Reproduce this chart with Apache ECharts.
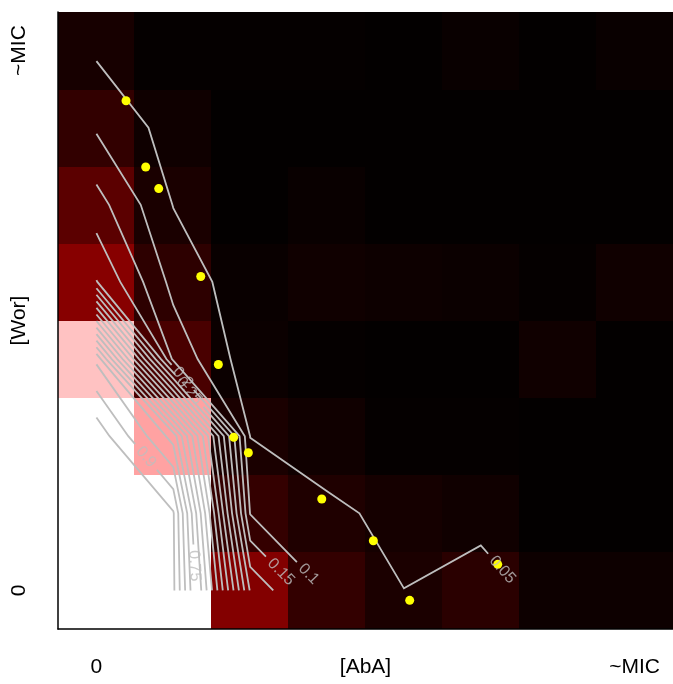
<!DOCTYPE html>
<html><head><meta charset="utf-8">
<script src="https://cdn.jsdelivr.net/npm/echarts@6/dist/echarts.min.js"></script>
<style>html,body{margin:0;padding:0;background:#fff}#c{width:673px;height:684px}</style>
</head><body><div id="c"></div>
<script>
// ---------------- data ----------------
const abaLabels = ['0', '', '', '', '', '', '', '~MIC'];
const worLabels = ['0', '', '', '', '', '', '', '~MIC'];
const abaTitle = '[AbA]';
const worTitle = '[Wor]';
// relative growth, one array per [Wor] level (wor7 = highest), across the 8 [AbA] levels
const wor7 = [0.043, 0.010, 0.010, 0.010, 0.006, 0.016, 0.006, 0.016];
const wor6 = [0.094, 0.029, 0.006, 0.006, 0.006, 0.006, 0.006, 0.006];
const wor5 = [0.170, 0.0485, 0.006, 0.016, 0.006, 0.006, 0.006, 0.006];
const wor4 = [0.252, 0.084, 0.017, 0.030, 0.024, 0.020, 0.010, 0.030];
const wor3 = [0.840, 0.137, 0.020, 0.010, 0.006, 0.006, 0.030, 0.006];
const wor2 = [0.985, 0.780, 0.049, 0.030, 0.010, 0.010, 0.006, 0.006];
const wor1 = [1.000, 0.955, 0.098, 0.058, 0.039, 0.030, 0.006, 0.006];
const wor0 = [1.000, 0.960, 0.245, 0.095, 0.0503, 0.078, 0.024, 0.024];
const contourLevels = [0.05, 0.1, 0.15, 0.2, 0.25, 0.3, 0.35, 0.4, 0.45, 0.5, 0.55, 0.6, 0.65, 0.7, 0.75, 0.8, 0.85, 0.9, 0.95];
const labelledLevels = [0.05, 0.1, 0.15, 0.2, 0.25, 0.75, 0.9];
// observed points (in grid units of [AbA], [Wor])
const pointAbA = [0.385, 0.641, 0.810, 1.357, 1.586, 1.786, 1.976, 2.931, 3.602, 4.075, 5.220];
const pointWor = [6.35, 5.49, 5.21, 4.07, 2.93, 1.985, 1.785, 1.185, 0.644, -0.128, 0.338];

// ---------------- layout config (label spots, approximate) ----------------
const labelSpot = {0.05: [5.26, 0.25], 0.1: [2.78, 0.23], 0.15: [2.39, 0.23], 0.2: [1.12, 2.76], 0.25: [1.22, 2.60], 0.75: [1.30, 0.32], 0.9: [0.75, 1.82]};

const rowsBottomUp = [wor0, wor1, wor2, wor3, wor4, wor5, wor6, wor7];
const N = 8;
const F = [];
for (let c = 0; c < N; c++) F[c] = rowsBottomUp.map(r => r[c]);

const heatData = [];
for (let r = 0; r < N; r++) for (let c = 0; c < N; c++) heatData.push([c, r, rowsBottomUp[r][c]]);

function segmentsFor(L) {
  const segs = [];
  for (let i = 0; i < N - 1; i++) for (let j = 0; j < N - 1; j++) {
    const bl = F[i][j], br = F[i + 1][j], tr = F[i + 1][j + 1], tl = F[i][j + 1];
    const E = [
      {a: bl, b: br, p: [i, j], q: [i + 1, j], id: 'h' + i + '_' + j},
      {a: br, b: tr, p: [i + 1, j], q: [i + 1, j + 1], id: 'v' + (i + 1) + '_' + j},
      {a: tl, b: tr, p: [i, j + 1], q: [i + 1, j + 1], id: 'h' + i + '_' + (j + 1)},
      {a: bl, b: tl, p: [i, j], q: [i, j + 1], id: 'v' + i + '_' + j}
    ];
    const cross = {}; let n = 0;
    E.forEach((e, k) => {
      if ((e.a >= L) !== (e.b >= L)) {
        const t = (L - e.a) / (e.b - e.a);
        cross[k] = {id: e.id, pt: [e.p[0] + t * (e.q[0] - e.p[0]), e.p[1] + t * (e.q[1] - e.p[1])]};
        n++;
      }
    });
    const ks = Object.keys(cross).map(Number);
    if (n === 2) segs.push([cross[ks[0]], cross[ks[1]]]);
    else if (n === 4) {
      const center = (bl + br + tr + tl) / 4;
      if ((bl >= L) === (center >= L)) { segs.push([cross[0], cross[1]]); segs.push([cross[2], cross[3]]); }
      else { segs.push([cross[0], cross[3]]); segs.push([cross[1], cross[2]]); }
    }
  }
  return segs;
}
function chains(segs) {
  const byId = {};
  segs.forEach((s, idx) => s.forEach(p => { (byId[p.id] = byId[p.id] || []).push(idx); }));
  const used = segs.map(() => false);
  const out = [];
  function walk(idx, from) {
    const pts = [segs[idx][from].pt];
    while (true) {
      used[idx] = true;
      const other = segs[idx][1 - from];
      pts.push(other.pt);
      const next = byId[other.id].find(m => !used[m]);
      if (next === undefined) break;
      from = segs[next][0].id === other.id ? 0 : 1;
      idx = next;
    }
    return pts;
  }
  segs.forEach((s, idx) => {
    if (used[idx]) return;
    for (let e = 0; e < 2; e++) if (byId[s[e].id].length === 1) { out.push(walk(idx, e)); return; }
  });
  segs.forEach((s, idx) => { if (!used[idx]) out.push(walk(idx, 0)); });
  return out;
}
const d2 = (a, b) => Math.hypot(a[0] - b[0], a[1] - b[1]);
function nearest(poly, A) {
  let best = null, cum = 0;
  for (let k = 0; k < poly.length - 1; k++) {
    const P = poly[k], Q = poly[k + 1];
    const vx = Q[0] - P[0], vy = Q[1] - P[1], len2 = vx * vx + vy * vy, len = Math.sqrt(len2);
    let t = len2 ? ((A[0] - P[0]) * vx + (A[1] - P[1]) * vy) / len2 : 0;
    t = Math.max(0, Math.min(1, t));
    const X = [P[0] + t * vx, P[1] + t * vy];
    const dist = d2(X, A);
    if (!best || dist < best.dist) best = {dist, pt: X, s: cum + t * len, dir: [vx, vy]};
    cum += len;
  }
  return best;
}
function cut(poly, s0, g) {
  const cum = [0];
  for (let k = 1; k < poly.length; k++) cum.push(cum[k - 1] + d2(poly[k - 1], poly[k]));
  const total = cum[cum.length - 1];
  const at = s => {
    for (let k = 0; k < poly.length - 1; k++) if (s <= cum[k + 1]) {
      const t = (s - cum[k]) / ((cum[k + 1] - cum[k]) || 1);
      return [poly[k][0] + t * (poly[k + 1][0] - poly[k][0]), poly[k][1] + t * (poly[k + 1][1] - poly[k][1])];
    }
    return poly[poly.length - 1];
  };
  const a = s0 - g, b = s0 + g, first = [], second = [];
  poly.forEach((p, k) => { if (cum[k] < a) first.push(p); });
  if (a > 0) first.push(at(a));
  if (b < total - 0.2) { second.push(at(b)); poly.forEach((p, k) => { if (cum[k] > b) second.push(p); }); }
  return [first, second].filter(p => p.length >= 2);
}

const lineData = [];
const labelData = [];
contourLevels.forEach(L => {
  let polys = chains(segmentsFor(L));
  const labelled = labelledLevels.some(v => Math.abs(v - L) < 1e-9);
  if (labelled && labelSpot[L]) {
    const text = String(L);
    let bi = -1, bn = null;
    polys.forEach((p, i) => { const n = nearest(p, labelSpot[L]); if (!bn || n.dist < bn.dist) { bn = n; bi = i; } });
    if (bn) {
      const g = (text.length * 4.6 + 3) / 77;
      const pieces = cut(polys[bi], bn.s, g);
      polys = polys.filter((p, i) => i !== bi).concat(pieces);
      let ang = Math.atan2(bn.dir[1] * 77.125, bn.dir[0] * 76.875) * 180 / Math.PI;
      if (ang >= 90) ang -= 180;
      if (ang < -90) ang += 180;
      labelData.push({value: bn.pt, label: {rotate: ang, formatter: text}});
    }
  }
  polys.forEach(p => lineData.push({coords: p}));
});

const scatterData = pointAbA.map((x, i) => [x, pointWor[i]]);

const FONT = '"Liberation Sans", Arial, Helvetica, sans-serif';
const AXSIZE = 21;
const hiddenValueAxis = {type: 'value', min: -0.5, max: 7.5, show: false,
  axisLine: {show: false, onZero: false}, axisTick: {show: false}, axisLabel: {show: false}, splitLine: {show: false}};
const chart = echarts.init(document.getElementById('c'), null, {renderer: 'canvas'});
chart.setOption({
  animation: false,
  backgroundColor: '#ffffff',
  grid: {left: 58, top: 12, right: 0, bottom: 55, containLabel: false, outerBoundsMode: 'none'},
  xAxis: [
    {type: 'category', data: abaLabels.map((_, i) => i), boundaryGap: true, z: 10,
     axisLine: {show: true, onZero: false, lineStyle: {color: '#000', width: 1.5}}, axisTick: {show: false},
     splitLine: {show: false}, splitArea: {show: false},
     axisLabel: {interval: 0, formatter: (v, i) => abaLabels[i], color: '#000', fontSize: AXSIZE, fontFamily: FONT, margin: 28},
     name: abaTitle, nameLocation: 'middle', nameGap: 28, nameMoveOverlap: false,
     nameTextStyle: {color: '#000', fontSize: AXSIZE, fontFamily: FONT, verticalAlign: 'top'}},
    Object.assign({}, hiddenValueAxis)
  ],
  yAxis: [
    {type: 'category', data: worLabels.map((_, i) => i), boundaryGap: true, z: 10,
     axisLine: {show: true, onZero: false, lineStyle: {color: '#000', width: 1.5}}, axisTick: {show: false},
     splitLine: {show: false}, splitArea: {show: false},
     axisLabel: {interval: 0, rotate: 90, formatter: (v, i) => worLabels[i], color: '#000', fontSize: AXSIZE, fontFamily: FONT, margin: 28},
     name: worTitle, nameLocation: 'middle', nameRotate: 90, nameGap: 28, nameMoveOverlap: false,
     nameTextStyle: {color: '#000', fontSize: AXSIZE, fontFamily: FONT, verticalAlign: 'bottom'}},
    Object.assign({}, hiddenValueAxis)
  ],
  visualMap: {show: false, type: 'continuous', min: 0, max: 0.955, dimension: 2, seriesIndex: 0,
              inRange: {color: ['#000000', '#ff0000', '#ffffff']}},
  series: [
    {type: 'custom', xAxisIndex: 1, yAxisIndex: 1, data: heatData, silent: true, z: 1,
     renderItem: (params, api) => {
       const p0 = api.coord([api.value(0) - 0.5, api.value(1) + 0.5]);
       const p1 = api.coord([api.value(0) + 0.5, api.value(1) - 0.5]);
       const x0 = Math.floor(p0[0]), y0 = Math.floor(p0[1]), x1 = Math.ceil(p1[0]), y1 = Math.ceil(p1[1]);
       return {type: 'rect', shape: {x: x0, y: y0, width: x1 - x0, height: y1 - y0},
               style: {fill: api.visual('color'), stroke: null, lineWidth: 0}};
     }},
    {type: 'lines', coordinateSystem: 'cartesian2d', xAxisIndex: 1, yAxisIndex: 1, polyline: true, data: lineData,
     lineStyle: {color: '#bebebe', width: 1.8, opacity: 1}, silent: true, z: 3},
    {type: 'scatter', xAxisIndex: 1, yAxisIndex: 1, data: scatterData, symbolSize: 9,
     itemStyle: {color: '#ffff00', opacity: 1}, silent: true, z: 4},
    {type: 'scatter', xAxisIndex: 1, yAxisIndex: 1, data: labelData, symbolSize: 1,
     itemStyle: {color: 'rgba(0,0,0,0)'}, silent: true, z: 5,
     label: {show: true, position: 'inside', color: '#bebebe', fontSize: 16, fontFamily: FONT}}
  ]
});
</script></body></html>
